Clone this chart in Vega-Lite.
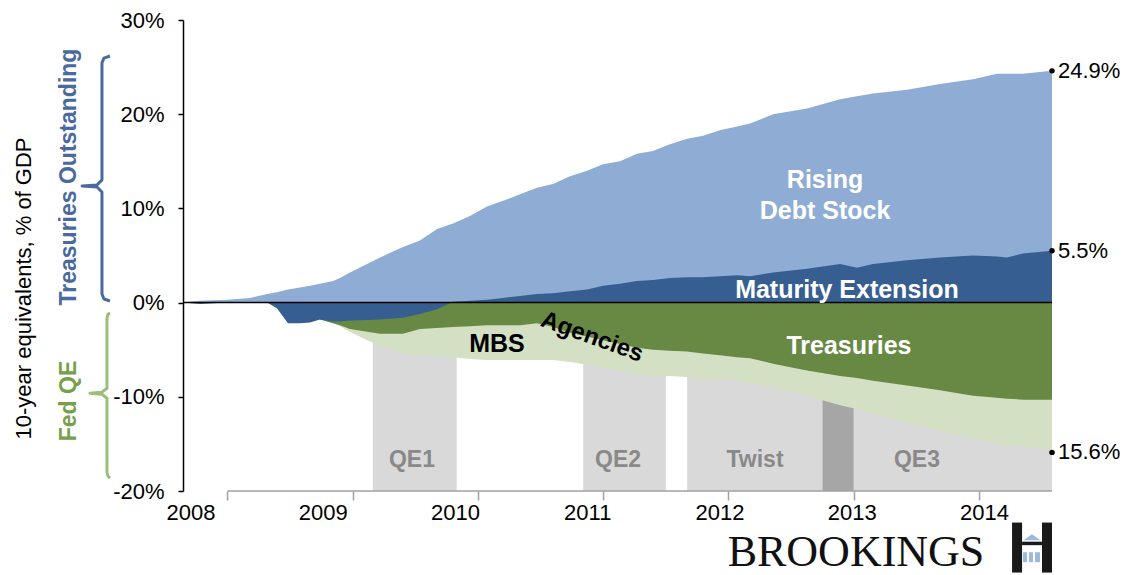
{
  "$schema": "https://vega.github.io/schema/vega-lite/v6.json",
  "width": 869,
  "height": 471,
  "autosize": {"type": "none"},
  "padding": {"left": 183, "top": 20, "right": 78, "bottom": 84},
  "config": {"view": {"stroke": null}, "font": "Liberation Sans"},
  "datasets": {
    "series": [
      {"t": 2007.645, "debt": 0, "me": 0, "tsy": 0, "fed": 0},
      {"t": 2007.781, "debt": 0.2, "me": -0.15, "tsy": 0, "fed": 0},
      {"t": 2007.996, "debt": 0.3, "me": 0, "tsy": 0, "fed": 0},
      {"t": 2008.18, "debt": 0.5, "me": 0, "tsy": 0, "fed": 0},
      {"t": 2008.316, "debt": 0.9, "me": 0, "tsy": 0, "fed": 0},
      {"t": 2008.395, "debt": 1.1, "me": -0.6, "tsy": 0, "fed": 0},
      {"t": 2008.483, "debt": 1.4, "me": -2.2, "tsy": 0, "fed": 0},
      {"t": 2008.579, "debt": 1.6, "me": -2.2, "tsy": 0, "fed": 0},
      {"t": 2008.659, "debt": 1.8, "me": -2.1, "tsy": 0, "fed": 0},
      {"t": 2008.739, "debt": 2.0, "me": -1.8, "tsy": -1.8, "fed": -1.8},
      {"t": 2008.843, "debt": 2.3, "me": -2.0, "tsy": -2.2, "fed": -2.2},
      {"t": 2008.898, "debt": 2.6, "me": -2.0, "tsy": -2.4, "fed": -2.5},
      {"t": 2008.978, "debt": 3.2, "me": -1.9, "tsy": -2.8, "fed": -3.1},
      {"t": 2009.114, "debt": 4.1, "me": -1.85, "tsy": -3.1, "fed": -4.0},
      {"t": 2009.218, "debt": 4.8, "me": -1.8, "tsy": -3.3, "fed": -4.5},
      {"t": 2009.401, "debt": 5.9, "me": -1.6, "tsy": -3.3, "fed": -5.4},
      {"t": 2009.537, "debt": 6.6, "me": -1.2, "tsy": -2.8, "fed": -5.6},
      {"t": 2009.673, "debt": 7.8, "me": -0.7, "tsy": -2.7, "fed": -5.7},
      {"t": 2009.801, "debt": 8.4, "me": 0.1, "tsy": -2.6, "fed": -5.8},
      {"t": 2009.936, "debt": 9.2, "me": 0.2, "tsy": -2.5, "fed": -6.0},
      {"t": 2010.072, "debt": 10.2, "me": 0.3, "tsy": -2.4, "fed": -6.1},
      {"t": 2010.2, "debt": 10.8, "me": 0.5, "tsy": -2.4, "fed": -6.1},
      {"t": 2010.336, "debt": 11.5, "me": 0.7, "tsy": -2.4, "fed": -6.1},
      {"t": 2010.471, "debt": 12.2, "me": 0.9, "tsy": -2.2, "fed": -6.1},
      {"t": 2010.599, "debt": 12.6, "me": 1.0, "tsy": -2.6, "fed": -6.1},
      {"t": 2010.735, "debt": 13.4, "me": 1.2, "tsy": -3.2, "fed": -6.3},
      {"t": 2010.871, "debt": 14.0, "me": 1.4, "tsy": -3.6, "fed": -6.6},
      {"t": 2010.998, "debt": 14.7, "me": 1.8, "tsy": -4.0, "fed": -6.9},
      {"t": 2011.134, "debt": 15.0, "me": 2.0, "tsy": -4.4, "fed": -7.2},
      {"t": 2011.27, "debt": 15.8, "me": 2.3, "tsy": -4.8, "fed": -7.6},
      {"t": 2011.397, "debt": 16.1, "me": 2.4, "tsy": -5.0, "fed": -7.9},
      {"t": 2011.533, "debt": 16.8, "me": 2.6, "tsy": -5.1, "fed": -7.8},
      {"t": 2011.669, "debt": 17.4, "me": 2.7, "tsy": -5.2, "fed": -7.9},
      {"t": 2011.797, "debt": 17.7, "me": 2.7, "tsy": -5.4, "fed": -8.1},
      {"t": 2011.932, "debt": 18.3, "me": 2.8, "tsy": -5.6, "fed": -8.2},
      {"t": 2012.068, "debt": 18.7, "me": 2.9, "tsy": -5.8, "fed": -8.3},
      {"t": 2012.172, "debt": 19.0, "me": 2.8, "tsy": -5.9, "fed": -8.5},
      {"t": 2012.356, "debt": 20.0, "me": 3.2, "tsy": -6.5, "fed": -9.0},
      {"t": 2012.627, "debt": 20.6, "me": 3.6, "tsy": -7.2, "fed": -9.9},
      {"t": 2012.891, "debt": 21.6, "me": 4.1, "tsy": -7.8, "fed": -10.9},
      {"t": 2013.026, "debt": 21.9, "me": 3.7, "tsy": -8.0, "fed": -11.3},
      {"t": 2013.154, "debt": 22.2, "me": 4.1, "tsy": -8.3, "fed": -11.8},
      {"t": 2013.425, "debt": 22.6, "me": 4.5, "tsy": -8.8, "fed": -12.7},
      {"t": 2013.689, "debt": 23.2, "me": 4.8, "tsy": -9.3, "fed": -13.6},
      {"t": 2013.952, "debt": 23.7, "me": 5.0, "tsy": -9.9, "fed": -14.4},
      {"t": 2014.144, "debt": 24.3, "me": 4.9, "tsy": -10.1, "fed": -15.0},
      {"t": 2014.224, "debt": 24.3, "me": 4.8, "tsy": -10.2, "fed": -15.2},
      {"t": 2014.352, "debt": 24.3, "me": 5.2, "tsy": -10.3, "fed": -15.3},
      {"t": 2014.583, "debt": 24.6, "me": 5.5, "tsy": -10.3, "fed": -15.6}
    ],
    "periods": [
      {"name": "QE1", "kind": "single", "t": 2009.16, "t2": 2009.83},
      {"name": "QE2", "kind": "single", "t": 2010.84, "t2": 2011.5},
      {"name": "Twist", "kind": "single", "t": 2011.67, "t2": 2012.75},
      {"name": "Twist+QE3", "kind": "overlap", "t": 2012.75, "t2": 2013.0},
      {"name": "QE3", "kind": "single", "t": 2013.0, "t2": 2014.583}
    ],
    "notes": [
      {"g": "white", "t": 2012.771, "v": 12.16, "text": "Rising"},
      {"g": "white", "t": 2012.771, "v": 8.87, "text": "Debt Stock"},
      {"g": "white", "t": 2012.946, "v": 0.49, "text": "Maturity Extension"},
      {"g": "white", "t": 2012.962, "v": -5.48, "text": "Treasuries"},
      {"g": "black", "t": 2010.152, "v": -5.27, "text": "MBS"},
      {"g": "tilt", "t": 2010.911, "v": -3.67, "text": "Agencies"},
      {"g": "qe", "t": 2009.473, "v": -17.45, "text": "QE1"},
      {"g": "qe", "t": 2011.118, "v": -17.45, "text": "QE2"},
      {"g": "qe", "t": 2012.212, "v": -17.45, "text": "Twist"},
      {"g": "qe", "t": 2013.505, "v": -17.45, "text": "QE3"},
      {"g": "sideblue", "t": 2006.735, "v": 13.33, "text": "Treasuries Outstanding"},
      {"g": "sidegreen", "t": 2006.735, "v": -10.45, "text": "Fed QE"},
      {"g": "brand", "t": 2013.018, "v": -28.0, "text": "BROOKINGS"}
    ],
    "ends": [
      {"t": 2014.583, "v": 24.6, "text": "24.9%"},
      {"t": 2014.583, "v": 5.5, "text": "5.5%"},
      {"t": 2014.583, "v": -15.9, "text": "15.6%"}
    ],
    "brackets": [
      {"b": "tsy", "i": 0, "t": 2007.062, "v": 26.18},
      {"b": "tsy", "i": 1, "t": 2007.014, "v": 25.96},
      {"b": "tsy", "i": 2, "t": 2006.998, "v": 25.44},
      {"b": "tsy", "i": 3, "t": 2006.998, "v": 13.01},
      {"b": "tsy", "i": 4, "t": 2006.958, "v": 12.48},
      {"b": "tsy", "i": 5, "t": 2006.839, "v": 12.38},
      {"b": "tsy", "i": 6, "t": 2006.958, "v": 12.27},
      {"b": "tsy", "i": 7, "t": 2006.998, "v": 11.74},
      {"b": "tsy", "i": 8, "t": 2006.998, "v": 0.91},
      {"b": "tsy", "i": 9, "t": 2007.014, "v": 0.38},
      {"b": "tsy", "i": 10, "t": 2007.062, "v": 0.17},
      {"b": "fed", "i": 0, "t": 2007.062, "v": -1.12},
      {"b": "fed", "i": 1, "t": 2007.046, "v": -1.23},
      {"b": "fed", "i": 2, "t": 2007.038, "v": -1.65},
      {"b": "fed", "i": 3, "t": 2007.038, "v": -9.09},
      {"b": "fed", "i": 4, "t": 2006.998, "v": -9.51},
      {"b": "fed", "i": 5, "t": 2006.902, "v": -9.62},
      {"b": "fed", "i": 6, "t": 2006.998, "v": -9.73},
      {"b": "fed", "i": 7, "t": 2007.038, "v": -10.15},
      {"b": "fed", "i": 8, "t": 2007.038, "v": -18.01},
      {"b": "fed", "i": 9, "t": 2007.046, "v": -18.43},
      {"b": "fed", "i": 10, "t": 2007.062, "v": -18.64}
    ],
    "logo": [
      {"part": "dark", "t": 2014.264, "t2": 2014.344, "v": -23.35, "v2": -28.66},
      {"part": "dark", "t": 2014.503, "t2": 2014.583, "v": -23.35, "v2": -28.66},
      {"part": "dark", "t": 2014.344, "t2": 2014.503, "v": -25.38, "v2": -25.75},
      {"part": "light", "t": 2014.352, "t2": 2014.384, "v": -26.5, "v2": -27.56},
      {"part": "light", "t": 2014.399, "t2": 2014.431, "v": -26.5, "v2": -27.56},
      {"part": "light", "t": 2014.447, "t2": 2014.487, "v": -26.5, "v2": -27.56}
    ],
    "roof": [{"t": 2014.423, "v": -24.91}],
    "zero": [{"t": 2007.645, "t2": 2014.583, "v": 0}],
    "xline": [{"t": 2008, "t2": 2014.583, "v": -20}]
  },
  "layer": [
    {
      "data": {"name": "periods"},
      "transform": [{"filter": "datum.kind == 'single'"}],
      "mark": {"type": "rect", "color": "#D9D9D9"},
      "encoding": {
        "x": {
          "field": "t", "type": "quantitative",
          "scale": {"domain": [2007.645, 2014.583], "nice": false, "zero": false},
          "axis": {
            "values": [2008, 2009, 2010, 2011, 2012, 2013, 2014],
            "format": "d",
            "domain": false, "grid": false,
            "tickSize": 9, "tickColor": "#A0A0A0", "tickWidth": 1.5,
            "labelFontSize": 22, "labelColor": "#000000", "labelPadding": 2,
            "labelOffset": {"expr": "7*(datum.value-2008)-37"},
            "labelFlush": false, "labelOverlap": false, "labelBound": false,
            "title": null
          }
        },
        "x2": {"field": "t2"},
        "y": {
          "datum": -20, "type": "quantitative",
          "scale": {"domain": [-20, 30], "nice": false, "zero": false},
          "axis": {
            "values": [-20, -10, 0, 10, 20, 30],
            "labelExpr": "datum.value + '%'",
            "domainColor": "#000000", "domainWidth": 1.5,
            "tickColor": "#000000", "tickSize": 5, "tickWidth": 1.5,
            "labelFontSize": 22, "labelColor": "#000000", "labelPadding": 14,
            "labelFlush": false, "grid": false,
            "title": "10-year equivalents, % of GDP",
            "titleFontSize": 22, "titleFontWeight": "normal", "titleColor": "#000000",
            "titleX": -160, "titleY": 268, "titleAngle": 270,
            "titleBaseline": "middle", "titleAlign": "center"
          }
        },
        "y2": {"datum": 0}
      }
    },
    {
      "data": {"name": "periods"},
      "transform": [{"filter": "datum.kind == 'overlap'"}],
      "mark": {"type": "rect", "color": "#A6A6A6"},
      "encoding": {
        "x": {"field": "t", "type": "quantitative"},
        "x2": {"field": "t2"},
        "y": {"datum": -20, "type": "quantitative"},
        "y2": {"datum": 0}
      }
    },
    {
      "data": {"name": "series"},
      "mark": {"type": "area", "color": "#8FADD4", "opacity": 1},
      "encoding": {
        "x": {"field": "t", "type": "quantitative"},
        "y": {"field": "debt", "type": "quantitative"},
        "y2": {"datum": 0}
      }
    },
    {
      "data": {"name": "series"},
      "mark": {"type": "area", "color": "#D3E0C4", "opacity": 1},
      "encoding": {
        "x": {"field": "t", "type": "quantitative"},
        "y": {"field": "fed", "type": "quantitative"},
        "y2": {"datum": 0}
      }
    },
    {
      "data": {"name": "series"},
      "mark": {"type": "area", "color": "#678944", "opacity": 1},
      "encoding": {
        "x": {"field": "t", "type": "quantitative"},
        "y": {"field": "tsy", "type": "quantitative"},
        "y2": {"datum": 0}
      }
    },
    {
      "data": {"name": "series"},
      "mark": {"type": "area", "color": "#365E91", "opacity": 1},
      "encoding": {
        "x": {"field": "t", "type": "quantitative"},
        "y": {"field": "me", "type": "quantitative"},
        "y2": {"datum": 0}
      }
    },
    {
      "data": {"name": "zero"},
      "mark": {"type": "rule", "color": "#000000", "strokeWidth": 1.5},
      "encoding": {
        "x": {"field": "t", "type": "quantitative"},
        "x2": {"field": "t2"},
        "y": {"field": "v", "type": "quantitative"}
      }
    },
    {
      "data": {"name": "xline"},
      "mark": {"type": "rule", "color": "#A0A0A0", "strokeWidth": 1.5},
      "encoding": {
        "x": {"field": "t", "type": "quantitative"},
        "x2": {"field": "t2"},
        "y": {"field": "v", "type": "quantitative"}
      }
    },
    {
      "data": {"name": "notes"},
      "transform": [{"filter": "datum.g == 'white'"}],
      "mark": {"type": "text", "color": "#FFFFFF", "fontWeight": "bold", "fontSize": 25, "align": "center", "baseline": "alphabetic"},
      "encoding": {
        "x": {"field": "t", "type": "quantitative"},
        "y": {"field": "v", "type": "quantitative"},
        "text": {"field": "text"}
      }
    },
    {
      "data": {"name": "notes"},
      "transform": [{"filter": "datum.g == 'black'"}],
      "mark": {"type": "text", "color": "#000000", "fontWeight": "bold", "fontSize": 25, "align": "center", "baseline": "alphabetic"},
      "encoding": {
        "x": {"field": "t", "type": "quantitative"},
        "y": {"field": "v", "type": "quantitative"},
        "text": {"field": "text"}
      }
    },
    {
      "data": {"name": "notes"},
      "transform": [{"filter": "datum.g == 'tilt'"}],
      "mark": {"type": "text", "color": "#000000", "fontWeight": "bold", "fontSize": 24, "align": "center", "baseline": "middle", "angle": 20},
      "encoding": {
        "x": {"field": "t", "type": "quantitative"},
        "y": {"field": "v", "type": "quantitative"},
        "text": {"field": "text"}
      }
    },
    {
      "data": {"name": "notes"},
      "transform": [{"filter": "datum.g == 'qe'"}],
      "mark": {"type": "text", "color": "#898989", "fontWeight": "bold", "fontSize": 23, "align": "center", "baseline": "alphabetic"},
      "encoding": {
        "x": {"field": "t", "type": "quantitative"},
        "y": {"field": "v", "type": "quantitative"},
        "text": {"field": "text"}
      }
    },
    {
      "data": {"name": "notes"},
      "transform": [{"filter": "datum.g == 'sideblue'"}],
      "mark": {"type": "text", "color": "#4A6A9E", "fontWeight": "bold", "fontSize": 23, "align": "center", "baseline": "middle", "angle": 270},
      "encoding": {
        "x": {"field": "t", "type": "quantitative"},
        "y": {"field": "v", "type": "quantitative"},
        "text": {"field": "text"}
      }
    },
    {
      "data": {"name": "notes"},
      "transform": [{"filter": "datum.g == 'sidegreen'"}],
      "mark": {"type": "text", "color": "#76A04A", "fontWeight": "bold", "fontSize": 23, "align": "center", "baseline": "middle", "angle": 270},
      "encoding": {
        "x": {"field": "t", "type": "quantitative"},
        "y": {"field": "v", "type": "quantitative"},
        "text": {"field": "text"}
      }
    },
    {
      "data": {"name": "notes"},
      "transform": [{"filter": "datum.g == 'brand'"}],
      "mark": {"type": "text", "color": "#111111", "font": "Liberation Serif", "fontSize": 44, "align": "center", "baseline": "alphabetic"},
      "encoding": {
        "x": {"field": "t", "type": "quantitative"},
        "y": {"field": "v", "type": "quantitative"},
        "text": {"field": "text"}
      }
    },
    {
      "data": {"name": "brackets"},
      "transform": [{"filter": "datum.b == 'tsy'"}],
      "mark": {"type": "line", "color": "#4A6A9E", "strokeWidth": 3, "strokeJoin": "round"},
      "encoding": {
        "x": {"field": "t", "type": "quantitative"},
        "y": {"field": "v", "type": "quantitative"},
        "order": {"field": "i"}
      }
    },
    {
      "data": {"name": "brackets"},
      "transform": [{"filter": "datum.b == 'fed'"}],
      "mark": {"type": "line", "color": "#9CBE78", "strokeWidth": 3, "strokeJoin": "round"},
      "encoding": {
        "x": {"field": "t", "type": "quantitative"},
        "y": {"field": "v", "type": "quantitative"},
        "order": {"field": "i"}
      }
    },
    {
      "data": {"name": "ends"},
      "mark": {"type": "point", "filled": true, "color": "#000000", "size": 30, "opacity": 1},
      "encoding": {
        "x": {"field": "t", "type": "quantitative"},
        "y": {"field": "v", "type": "quantitative"}
      }
    },
    {
      "data": {"name": "ends"},
      "mark": {"type": "text", "color": "#000000", "fontSize": 22, "align": "left", "baseline": "middle", "dx": 6},
      "encoding": {
        "x": {"field": "t", "type": "quantitative"},
        "y": {"field": "v", "type": "quantitative"},
        "text": {"field": "text"}
      }
    },
    {
      "data": {"name": "logo"},
      "transform": [{"filter": "datum.part == 'dark'"}],
      "mark": {"type": "rect", "color": "#1A1A1A"},
      "encoding": {
        "x": {"field": "t", "type": "quantitative"},
        "x2": {"field": "t2"},
        "y": {"field": "v", "type": "quantitative"},
        "y2": {"field": "v2"}
      }
    },
    {
      "data": {"name": "logo"},
      "transform": [{"filter": "datum.part == 'light'"}],
      "mark": {"type": "rect", "color": "#9DB9DE"},
      "encoding": {
        "x": {"field": "t", "type": "quantitative"},
        "x2": {"field": "t2"},
        "y": {"field": "v", "type": "quantitative"},
        "y2": {"field": "v2"}
      }
    },
    {
      "data": {"name": "roof"},
      "mark": {"type": "point", "filled": true, "color": "#9DB9DE", "opacity": 1, "size": 289, "shape": "M-1,0.35L0,-0.35L1,0.35Z"},
      "encoding": {
        "x": {"field": "t", "type": "quantitative"},
        "y": {"field": "v", "type": "quantitative"}
      }
    }
  ]
}
